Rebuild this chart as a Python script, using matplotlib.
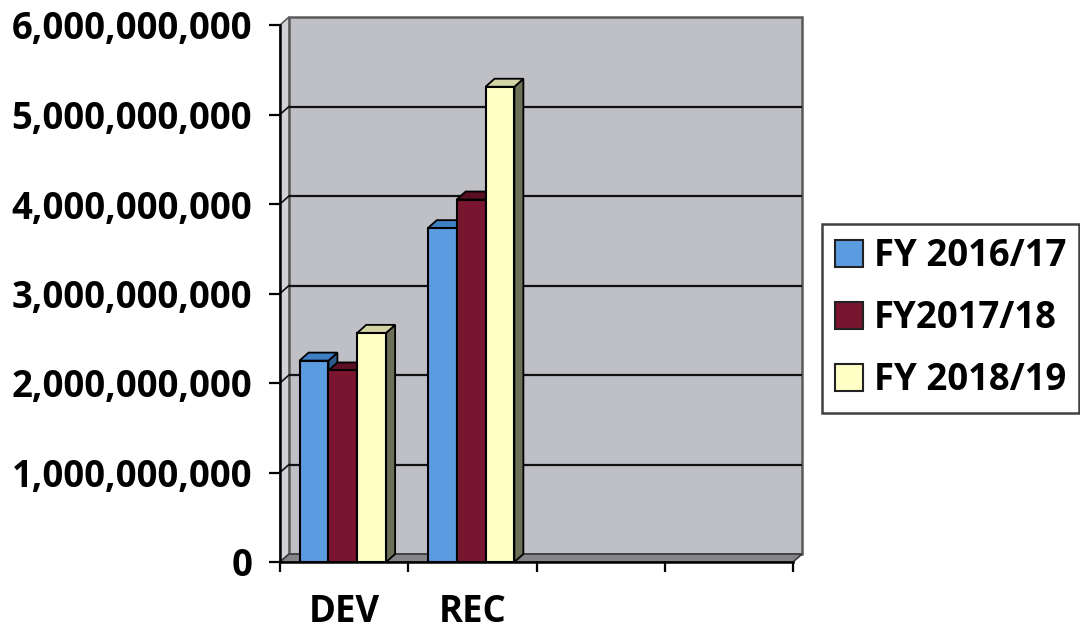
import matplotlib
matplotlib.use("Agg")
import matplotlib.pyplot as plt
from matplotlib.patches import Polygon, Patch

# ---- data -------------------------------------------------------------
categories = ["DEV", "REC"]
n_slots = 4                      # category slots on the x axis (two are empty)
series_names = ["FY 2016/17", "FY2017/18", "FY 2018/19"]
fy2016_17 = [2.25e9, 3.73e9]
fy2017_18 = [2.14e9, 4.05e9]
fy2018_19 = [2.56e9, 5.31e9]
y_ticks = [0, 1e9, 2e9, 3e9, 4e9, 5e9, 6e9]
y_tick_labels = ["0", "1,000,000,000", "2,000,000,000", "3,000,000,000",
                 "4,000,000,000", "5,000,000,000", "6,000,000,000"]

series = [fy2016_17, fy2017_18, fy2018_19]
front_colors = ["#5b9be0", "#7a1530", "#ffffc6"]
top_colors = ["#3f7fc4", "#5a0f22", "#d3d5a6"]
side_colors = ["#2c5a8c", "#45091a", "#6c7058"]

FONT = "Open Sans"
FS = 26.3

fig = plt.figure(figsize=(10.8, 6.3), dpi=100)
fig.patch.set_facecolor("white")
ax_left, ax_bottom = 280 / 1080, (630 - 562) / 630
ax_w, ax_h = 513 / 1080, 537 / 630
ax = fig.add_axes([ax_left, ax_bottom, ax_w, ax_h])
ax.set_xlim(0, n_slots)
ax.set_ylim(0, y_ticks[-1])
ax.patch.set_visible(False)

# depth of the 3-D box, converted from pixels to data units
px_x = ax_w * 1080 / n_slots
px_y = ax_h * 630 / y_ticks[-1]
dx = 9 / px_x
dy = 8 / px_y
ymax = y_ticks[-1]

wall_color = "#bfbfc6"
# back wall
ax.add_patch(Polygon([(dx, dy), (n_slots + dx, dy), (n_slots + dx, ymax + dy), (dx, ymax + dy)],
                     closed=True, facecolor=wall_color, edgecolor="#5a5a5a", lw=1.8,
                     zorder=0, clip_on=False))
# left side wall
ax.add_patch(Polygon([(0, 0), (dx, dy), (dx, ymax + dy), (0, ymax)],
                     closed=True, facecolor="#d2d2d6", edgecolor="#5a5a5a", lw=1.2,
                     zorder=0.2, clip_on=False))
# floor
ax.add_patch(Polygon([(0, 0), (n_slots, 0), (n_slots + dx, dy), (dx, dy)],
                     closed=True, facecolor="#858589", edgecolor="#3a3a3a", lw=1.2,
                     zorder=0.3, clip_on=False))

# gridlines on the wall with their diagonal link to the axis
for v in y_ticks[1:-1]:
    ax.plot([dx, n_slots + dx], [v + dy, v + dy], color="#111111", lw=1.6,
            zorder=0.5, clip_on=False, solid_capstyle="butt")
    ax.plot([0, dx], [v, v + dy], color="#111111", lw=1.2, zorder=0.5, clip_on=False)

# 3-D bars
bar_w = 0.225
offsets = [-bar_w, 0.0, bar_w]
z = 2
for ci in range(len(categories)):
    center = ci + 0.49
    for si, vals in enumerate(series):
        h = vals[ci]
        x0 = center + offsets[si] - bar_w / 2
        x1 = x0 + bar_w
        ax.add_patch(Polygon([(x1, 0), (x1 + dx, dy), (x1 + dx, h + dy), (x1, h)],
                             closed=True, facecolor=side_colors[si], edgecolor="black",
                             lw=1.3, zorder=z, clip_on=False))
        ax.add_patch(Polygon([(x0, h), (x1, h), (x1 + dx, h + dy), (x0 + dx, h + dy)],
                             closed=True, facecolor=top_colors[si], edgecolor="black",
                             lw=1.3, zorder=z + 0.1, clip_on=False))
        ax.bar(x0, h, width=bar_w, align="edge", color=front_colors[si],
               edgecolor="black", lw=1.5, zorder=z + 0.2)
        z += 1

# axes
for s in ["top", "right"]:
    ax.spines[s].set_visible(False)
for s in ["left", "bottom"]:
    ax.spines[s].set_linewidth(1.8)
    ax.spines[s].set_color("black")
    ax.spines[s].set_zorder(20)

ax.set_yticks(y_ticks)
ax.set_yticklabels(y_tick_labels, fontfamily=FONT, fontweight="bold", fontsize=FS)
ax.tick_params(axis="y", direction="out", length=8, width=1.6, pad=12, colors="black")

ax.set_xticks(range(n_slots + 1))
ax.set_xticklabels([])
ax.tick_params(axis="x", which="major", direction="out", length=7.5, width=1.6)
ax.set_xticks([i + 0.5 for i in range(len(categories))], minor=True)
ax.set_xticklabels(categories, minor=True, fontfamily=FONT, fontweight="bold", fontsize=FS)
ax.tick_params(axis="x", which="minor", length=0, pad=22)

# legend
handles = [Patch(facecolor=c, edgecolor="#222222", lw=1.5) for c in front_colors]
leg = fig.legend(handles, series_names, loc="upper left",
                 bbox_to_anchor=(822 / 1080, (630 - 224) / 630),
                 bbox_transform=fig.transFigure, borderaxespad=0,
                 prop={"family": FONT, "weight": "bold", "size": FS},
                 handlelength=0.75, handleheight=0.75, handletextpad=0.3,
                 labelspacing=0.66, borderpad=0.36, frameon=True, fancybox=False)
leg.get_frame().set_edgecolor("#111111")
leg.get_frame().set_linewidth(1.8)

fig.savefig("out.png", dpi=100, facecolor="white")
